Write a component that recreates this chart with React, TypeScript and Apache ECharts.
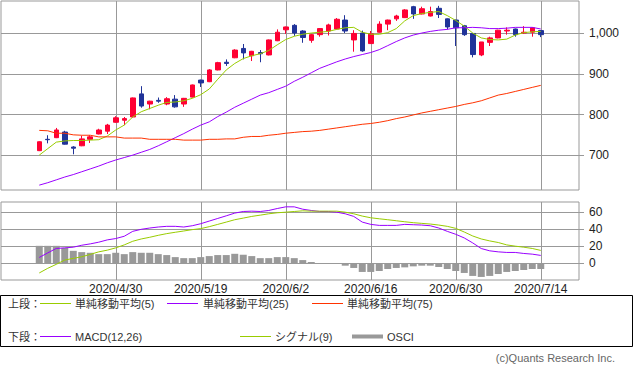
import React, { useEffect, useRef } from "react";
import * as echarts from "echarts";

// ---- data ----
const dates = [
  "2020/4/16", "2020/4/17", "2020/4/20", "2020/4/21", "2020/4/22", "2020/4/23", "2020/4/24", "2020/4/27", "2020/4/28", "2020/4/30",
  "2020/5/1", "2020/5/7", "2020/5/8", "2020/5/11", "2020/5/12", "2020/5/13", "2020/5/14", "2020/5/15", "2020/5/18", "2020/5/19",
  "2020/5/20", "2020/5/21", "2020/5/22", "2020/5/25", "2020/5/26", "2020/5/27", "2020/5/28", "2020/5/29", "2020/6/1", "2020/6/2",
  "2020/6/3", "2020/6/4", "2020/6/5", "2020/6/8", "2020/6/9", "2020/6/10", "2020/6/11", "2020/6/12", "2020/6/15", "2020/6/16",
  "2020/6/17", "2020/6/18", "2020/6/19", "2020/6/22", "2020/6/23", "2020/6/24", "2020/6/25", "2020/6/26", "2020/6/29", "2020/6/30",
  "2020/7/1", "2020/7/2", "2020/7/3", "2020/7/6", "2020/7/7", "2020/7/8", "2020/7/9", "2020/7/10", "2020/7/13", "2020/7/14",
];
const tickDates = ["2020/4/30", "2020/5/19", "2020/6/2", "2020/6/16", "2020/6/30", "2020/7/14"];

const opens = [711, 739, 743, 757, 720, 723, 739, 752, 759, 781, 786, 794, 851, 826, 835, 826, 838, 826, 843, 885, 881, 910, 929, 940, 963, 945, 953, 947, 982, 1009, 1020, 1006, 983, 997, 1006, 1011, 1033, 984, 1001, 975, 1003, 1023, 1036, 1039, 1066, 1048, 1043, 1062, 1036, 1033, 1019, 1000, 947, 978, 989, 1006, 1011, 1001, 1003, 1007];
const closes = [733, 738, 762, 727, 717, 740, 745, 762, 774, 792, 790, 841, 821, 833, 833, 839, 819, 840, 873, 878, 910, 928, 926, 959, 952, 956, 950, 984, 1003, 1016, 1001, 990, 997, 1012, 1021, 1035, 1006, 1000, 957, 999, 1023, 1033, 1043, 1058, 1048, 1061, 1054, 1047, 1016, 1014, 997, 948, 979, 989, 1008, 1008, 997, 1003, 1014, 997];
const lows = [710, 729, 742, 726, 702, 722, 730, 751, 752, 780, 774, 793, 817, 813, 829, 823, 817, 819, 842, 868, 880, 909, 920, 939, 936, 932, 929, 946, 981, 999, 994, 977, 977, 992, 995, 1010, 1001, 955, 955, 974, 1002, 1008, 1031, 1038, 1036, 1047, 1042, 1038, 1010, 969, 994, 941, 944, 969, 988, 997, 992, 999, 992, 991];
const highs = [734, 749, 767, 760, 722, 748, 749, 765, 777, 796, 794, 842, 870, 834, 842, 843, 848, 841, 874, 886, 912, 930, 936, 961, 974, 957, 959, 985, 1010, 1017, 1023, 1008, 999, 1013, 1024, 1038, 1045, 1008, 1007, 1006, 1030, 1034, 1046, 1060, 1068, 1066, 1066, 1068, 1037, 1034, 1021, 1001, 979, 992, 1009, 1015, 1012, 1018, 1015, 1008];

const ma5 = [700, 716, 732, 735, 736, 736, 737, 738, 747, 762, 774, 794, 807, 815, 823, 830, 831, 834, 840, 849, 863, 887, 910, 926, 938, 945, 950, 958, 972, 985, 993, 998, 1001, 1003, 1005, 1010, 1014, 1015, 1003, 998, 998, 1002, 1012, 1031, 1044, 1049, 1052, 1054, 1044, 1032, 1018, 1001, 989, 985, 984, 986, 996, 1002, 1004, 1005];
const ma25 = [626, 632, 639, 646, 652, 659, 666, 673, 681, 688, 694, 700, 707, 714, 723, 733, 743, 753, 764, 774, 782, 795, 806, 818, 828, 838, 848, 854, 862, 870, 882, 892, 903, 914, 922, 930, 937, 943, 948, 953, 960, 970, 980, 989, 996, 1001, 1005, 1008, 1010, 1014, 1014, 1015, 1014, 1012, 1012, 1013, 1015, 1015, 1015, 1011];
const ma75 = [761, 760, 754, 754, 750, 749, 749, 745, 745, 745, 742, 742, 742, 739, 739, 739, 739, 737, 737, 737, 739, 739, 740, 740, 744, 746, 746, 749, 751, 754, 756, 758, 759, 761, 764, 767, 770, 773, 776, 778, 781, 785, 790, 794, 799, 804, 808, 812, 816, 820, 825, 829, 834, 841, 848, 852, 857, 862, 867, 872];

const macd = [6.6, 12, 17.2, 17.9, 18.7, 21, 22.6, 24.6, 27.3, 28.9, 31.6, 37.4, 39.8, 41.3, 42.5, 43.3, 43.3, 42.5, 44, 46.4, 49.5, 52.6, 55.7, 58.9, 60.8, 61.2, 60.8, 62, 64.3, 66.3, 66.3, 63.5, 62, 60.8, 60.8, 60, 58.1, 55, 48.3, 45.6, 44.4, 44.4, 44.4, 45.6, 45.2, 44.8, 44, 41.3, 37.4, 33.9, 29.6, 23.7, 17.1, 14.4, 13.2, 12.5, 12.5, 11.3, 10.5, 9.0];
const signal = [-11.7, -6.2, -1.5, 3.5, 5.5, 7.4, 10.2, 13.2, 15.2, 17.9, 21.4, 25.7, 28.4, 30.4, 32.7, 34.7, 36.3, 37.8, 39.4, 40.6, 42.9, 45.6, 48.3, 51.1, 53, 55, 56.5, 58.1, 59.3, 60, 60.8, 61.6, 61.2, 61.2, 61.2, 61.2, 60, 58.1, 55.4, 53.4, 52.2, 51.1, 49.9, 48.7, 47.6, 46.8, 46, 44.8, 43.3, 40.9, 36.6, 31.9, 28.4, 26.1, 24.2, 21.4, 19.9, 18.7, 17.2, 14.9];
const osci = [20.3, 20.3, 20.3, 17.9, 14.4, 12.9, 12.1, 10.5, 10.5, 12.1, 10.5, 12.9, 12.1, 12.1, 10.5, 9.4, 7.0, 5.8, 5.8, 7.0, 8.2, 9.4, 9.4, 10.9, 9.8, 8.2, 5.8, 5.8, 7.0, 7.0, 5.8, 3.5, 1.2, 0, 0, 0, -3.1, -5.8, -10.5, -10.5, -9.4, -7.0, -5.8, -5.1, -3.9, -3.1, -3.1, -4.7, -7.0, -9.4, -11.7, -15.2, -16.4, -15.2, -12.9, -10.5, -9.4, -8.2, -7.0, -7.0];

const priceTicks = [700, 800, 900, 1000];
const macdTicks = [0, 20, 40, 60];

// ---- styles ----
const PAD = 4;
const UP = "#ff0033";
const DOWN = "#203399";
const C_MA5 = "#99cc00";
const C_MA25 = "#9900ff";
const C_MA75 = "#ff3300";
const GRID = "#999999";
const LATIN = '"Liberation Sans", Arial, sans-serif';
const NARROW = '"Liberation Sans Narrow", "Liberation Sans", Arial, sans-serif';
const LEGEND_FONT = '11px "Liberation Sans", "Noto Sans CJK JP", sans-serif';

const cats = [
  ...Array.from({ length: PAD }, (_, i) => "pl" + i),
  ...dates,
  ...Array.from({ length: PAD }, (_, i) => "pr" + i),
];
const isTick = (_i: number, v: string) => tickDates.indexOf(v) >= 0;
const withX = (arr: number[]) => arr.map((v, i) => [i + PAD, v]);
const commas = (v: number) => String(v).replace(/\B(?=(\d{3})+(?!\d))/g, ",");

function buildOption() {
  const xBase = (grid: number, showLabel: boolean) => ({
    type: "category",
    gridIndex: grid,
    data: cats,
    boundaryGap: true,
    axisLine: { show: false },
    axisTick: { show: false },
    axisLabel: showLabel
      ? { show: true, interval: isTick, margin: 3, fontSize: 12, fontFamily: LATIN, color: "#222", hideOverlap: false }
      : { show: false },
    splitLine: { show: true, interval: isTick, alignWithLabel: true, lineStyle: { color: GRID, width: 1 } },
  });

  const txt = (text: string, x: number, y: number, extra: any = {}) => ({
    type: "text",
    x,
    y,
    silent: true,
    style: { text, font: LEGEND_FONT, fill: "#333", verticalAlign: "middle", ...extra },
  });
  const seg = (x1: number, x2: number, y: number, color: string, w = 1) => ({
    type: "line",
    silent: true,
    shape: { x1, y1: y, x2, y2: y },
    style: { stroke: color, lineWidth: w },
  });

  return {
    animation: false,
    backgroundColor: "#ffffff",
    grid: [
      { left: 1, top: 1, width: 578, height: 189, show: true, borderColor: GRID, borderWidth: 1, backgroundColor: "transparent", outerBoundsMode: "none" },
      { left: 1, top: 202, width: 578, height: 78, show: true, borderColor: GRID, borderWidth: 1, backgroundColor: "transparent", outerBoundsMode: "none" },
    ],
    xAxis: [xBase(0, false), xBase(1, true)],
    yAxis: [
      {
        type: "value",
        gridIndex: 0,
        position: "right",
        min: 614,
        max: 1080,
        splitNumber: 5,
        axisLine: { show: false },
        axisTick: { show: true, length: 5, customValues: priceTicks, lineStyle: { color: GRID } },
        axisLabel: {
          customValues: priceTicks,
          margin: 10,
          fontSize: 12,
          fontFamily: NARROW,
          color: "#222",
          formatter: (v: number) => (v % 100 === 0 && v >= 700 && v <= 1000 ? commas(v) : ""),
        },
        splitLine: { show: true, lineStyle: { color: GRID, width: 1 } },
      },
      {
        type: "value",
        gridIndex: 1,
        position: "right",
        min: -20,
        max: 72,
        interval: 20,
        axisLine: { show: false },
        axisTick: { show: true, length: 5, customValues: macdTicks, lineStyle: { color: GRID } },
        axisLabel: {
          customValues: macdTicks,
          margin: 10,
          fontSize: 12,
          fontFamily: NARROW,
          color: "#222",
          formatter: (v: number) => (v >= 0 && v <= 60 && v % 20 === 0 ? String(v) : ""),
        },
        splitLine: { show: true, lineStyle: { color: GRID, width: 1 } },
      },
    ],
    series: [
      {
        type: "candlestick",
        xAxisIndex: 0,
        yAxisIndex: 0,
        barWidth: 5,
        dimensions: ["x", "open", "close", "low", "high"],
        encode: { x: "x", y: ["open", "close", "low", "high"] },
        data: dates.map((_, i) => [i + PAD, opens[i], closes[i], lows[i], highs[i]]),
        itemStyle: { color: UP, color0: DOWN, borderColor: UP, borderColor0: DOWN, borderWidth: 1 },
      },
      { type: "line", name: "MA5", xAxisIndex: 0, yAxisIndex: 0, data: withX(ma5), symbol: "none", lineStyle: { color: C_MA5, width: 1 } },
      { type: "line", name: "MA25", xAxisIndex: 0, yAxisIndex: 0, data: withX(ma25), symbol: "none", lineStyle: { color: C_MA25, width: 1 } },
      { type: "line", name: "MA75", xAxisIndex: 0, yAxisIndex: 0, data: withX(ma75), symbol: "none", lineStyle: { color: C_MA75, width: 1 } },
      { type: "bar", name: "OSCI", xAxisIndex: 1, yAxisIndex: 1, data: withX(osci), barWidth: 7, itemStyle: { color: "#999999" } },
      { type: "line", name: "MACD", xAxisIndex: 1, yAxisIndex: 1, data: withX(macd), symbol: "none", lineStyle: { color: C_MA25, width: 1 } },
      { type: "line", name: "Signal", xAxisIndex: 1, yAxisIndex: 1, data: withX(signal), symbol: "none", lineStyle: { color: C_MA5, width: 1 } },
    ],
    graphic: [
      { type: "rect", silent: true, shape: { x: 0.5, y: 295.5, width: 632, height: 51 }, style: { fill: "none", stroke: "#000", lineWidth: 1 } },
      txt("上段：", 8, 303.5),
      seg(40, 71, 303.5, C_MA5),
      txt("単純移動平均(5)", 75, 303.5),
      seg(167, 198, 303.5, C_MA25),
      txt("単純移動平均(25)", 203, 303.5),
      seg(312, 343, 303.5, C_MA75),
      txt("単純移動平均(75)", 347, 303.5),
      txt("下段：", 8, 336.5),
      seg(40, 71, 336.5, C_MA25),
      txt("MACD(12,26)", 75, 336.5),
      seg(240, 271, 336.5, C_MA5),
      txt("シグナル(9)", 275, 336.5),
      seg(352, 383, 336.5, "#999999", 4),
      txt("OSCI", 387, 336.5),
      txt("(c)Quants Research Inc.", 615, 358, { align: "right", fill: "#666" }),
    ],
  };
}

export default function App() {
  const ref = useRef<HTMLDivElement>(null);
  useEffect(() => {
    if (!ref.current) return;
    const chart = echarts.init(ref.current, undefined, { renderer: "svg" });
    chart.setOption(buildOption() as any);
    return () => chart.dispose();
  }, []);
  return (
    <div
      ref={ref}
      style={{ position: "fixed", left: 0, top: 0, width: 633, height: 374, background: "#fff" }}
    />
  );
}
